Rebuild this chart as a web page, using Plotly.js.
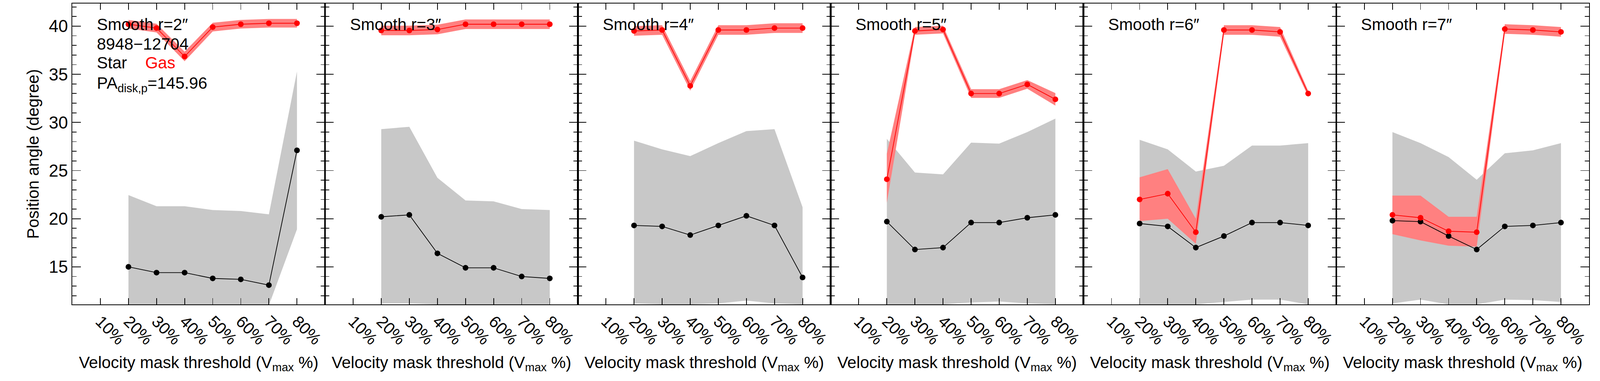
<!DOCTYPE html>
<html>
<head>
<meta charset="utf-8">
<script src="https://cdn.plot.ly/plotly-3.0.1.min.js"></script>
<style>html,body{margin:0;padding:0;overflow:hidden;background:#fff}#chart{width:100vw;height:100vh}</style>
</head>
<body>
<div id="chart"></div>
<script>
var thresholds = [20, 30, 40, 50, 60, 70, 80];
var tickVals = [10, 20, 30, 40, 50, 60, 70, 80];
var tickLabels = ['10%', '20%', '30%', '40%', '50%', '60%', '70%', '80%'];
var smoothRadii = ['2', '3', '4', '5', '6', '7'];

var starPA = [
  [15.0, 14.4, 14.4, 13.8, 13.7, 13.1, 27.1],
  [20.2, 20.4, 16.4, 14.9, 14.9, 14.0, 13.8],
  [19.3, 19.2, 18.3, 19.3, 20.3, 19.3, 13.9],
  [19.7, 16.8, 17.0, 19.6, 19.6, 20.1, 20.4],
  [19.5, 19.2, 17.0, 18.2, 19.6, 19.6, 19.3],
  [19.8, 19.7, 18.2, 16.8, 19.2, 19.3, 19.6]
];
var starLo = [
  [10.5, 10.5, 10.5, 10.5, 10.5, 11.0, 18.9],
  [11.2, 11.2, 11.1, 11.0, 11.0, 11.0, 11.0],
  [11.2, 11.1, 11.1, 11.2, 11.5, 11.2, 11.1],
  [11.1, 11.1, 11.1, 11.3, 11.4, 11.2, 11.1],
  [11.1, 11.1, 11.1, 11.35, 11.6, 11.6, 11.1],
  [11.2, 11.6, 11.1, 11.1, 11.6, 11.55, 11.35]
];
var starHi = [
  [22.45, 21.3, 21.3, 20.9, 20.8, 20.45, 35.3],
  [29.3, 29.55, 24.25, 21.9, 21.8, 21.0, 20.9],
  [28.1, 27.2, 26.5, 27.85, 29.1, 29.3, 21.2],
  [28.3, 24.8, 24.6, 27.9, 27.8, 29.0, 30.4],
  [28.2, 27.2, 24.9, 25.5, 27.6, 27.6, 27.85],
  [29.0, 27.85, 26.4, 24.05, 26.8, 27.1, 27.85]
];
var gasPA = [
  [40.2, 39.8, 36.85, 39.9, 40.2, 40.3, 40.3],
  [39.55, 39.55, 39.65, 40.2, 40.2, 40.2, 40.2],
  [39.5, 39.6, 33.8, 39.6, 39.6, 39.8, 39.8],
  [24.1, 39.5, 39.65, 33.0, 33.0, 33.95, 32.4],
  [22.0, 22.6, 18.6, 39.6, 39.6, 39.4, 33.0],
  [20.4, 20.1, 18.7, 18.6, 39.7, 39.6, 39.4]
];
var gasLo = [
  [39.75, 39.35, 36.35, 39.45, 39.75, 39.85, 39.85],
  [39.05, 39.05, 39.15, 39.7, 39.7, 39.7, 39.7],
  [39.0, 39.1, 33.3, 39.1, 39.1, 39.3, 39.3],
  [21.65, 39.1, 39.25, 32.55, 32.55, 33.5, 31.75],
  [19.75, 20.0, 17.4, 39.1, 39.1, 38.9, 32.7],
  [18.4, 17.75, 17.2, 17.1, 39.2, 39.1, 38.9]
];
var gasHi = [
  [40.65, 40.25, 37.35, 40.35, 40.65, 40.75, 40.75],
  [40.05, 40.05, 40.15, 40.7, 40.7, 40.7, 40.7],
  [40.0, 40.1, 34.3, 40.1, 40.1, 40.3, 40.3],
  [26.75, 39.9, 40.05, 33.45, 33.45, 34.4, 33.05],
  [24.3, 25.15, 20.0, 40.1, 40.1, 39.9, 33.3],
  [22.4, 22.4, 20.2, 20.2, 40.2, 40.1, 39.9]
];

// scale everything to the real viewport (designed for 4500x975)
var W = window.innerWidth, H = window.innerHeight;
var s = W / 4500, sy = H / 975;
var FONT = 'Liberation Sans, Arial, sans-serif';
var FS = Math.round(46 * s);
var data = [];
var layout = {
  width: W, height: H,
  margin: {l: 203 * s, r: 31 * s, t: 9 * sy, b: 196 * sy},
  paper_bgcolor: '#fff', plot_bgcolor: '#fff',
  showlegend: false,
  font: {family: FONT, size: FS, color: '#000'},
  annotations: []
};

for (var p = 0; p < 6; p++) {
  var n = p === 0 ? '' : String(p + 1);
  var xa = 'x' + n, ya = 'y' + n;
  data.push({x: thresholds, y: starLo[p], xaxis: xa, yaxis: ya, mode: 'lines',
    line: {width: 0, color: '#c8c8c8'}, hoverinfo: 'skip'});
  data.push({x: thresholds, y: starHi[p], xaxis: xa, yaxis: ya, mode: 'lines',
    fill: 'tonexty', fillcolor: '#c8c8c8', line: {width: 0, color: '#c8c8c8'}, hoverinfo: 'skip'});
  data.push({x: thresholds, y: gasLo[p], xaxis: xa, yaxis: ya, mode: 'lines',
    line: {width: 0, color: '#ff8080'}, hoverinfo: 'skip'});
  data.push({x: thresholds, y: gasHi[p], xaxis: xa, yaxis: ya, mode: 'lines',
    fill: 'tonexty', fillcolor: '#ff8080', line: {width: 0, color: '#ff8080'}, hoverinfo: 'skip'});
  data.push({x: thresholds, y: starPA[p], xaxis: xa, yaxis: ya, mode: 'lines+markers',
    line: {color: '#000', width: 2 * s}, marker: {color: '#000', size: 16 * s}});
  data.push({x: thresholds, y: gasPA[p], xaxis: xa, yaxis: ya, mode: 'lines+markers',
    line: {color: '#ff0000', width: 2 * s}, marker: {color: '#ff0000', size: 16 * s}});

  layout['xaxis' + n] = {
    domain: [p / 6, (p + 1) / 6], anchor: ya, range: [0, 90],
    tickvals: tickVals, ticktext: tickLabels, tickangle: 45,
    ticks: 'inside', ticklen: 16 * sy, tickwidth: 2 * s, tickcolor: '#000',
    showline: true, linewidth: 2.5 * s, linecolor: '#000', mirror: 'ticks',
    showgrid: false, zeroline: false,
    tickfont: {family: FONT, size: FS},
    title: {text: 'Velocity mask threshold (V<sub>max</sub> %)', font: {family: FONT, size: FS}, standoff: 22 * sy}
  };
  layout['yaxis' + n] = {
    domain: [0, 1], anchor: xa, range: [11.1, 42.35],
    tickvals: [15, 20, 25, 30, 35, 40],
    ticks: 'inside', ticklen: 24 * s, tickwidth: 2 * s, tickcolor: '#000',
    minor: {dtick: 1, ticks: 'inside', ticklen: 12 * s, tickwidth: 2 * s, tickcolor: '#000', showgrid: false},
    showline: true, linewidth: 2.5 * s, linecolor: '#000', mirror: 'ticks',
    showgrid: false, zeroline: false,
    showticklabels: p === 0,
    tickfont: {family: FONT, size: Math.round(48 * s)}
  };
  if (p === 0) {
    layout.yaxis.title = {text: 'Position angle (degree)', font: {family: FONT, size: FS}, standoff: 14 * s};
  }
  layout.annotations.push({xref: xa + ' domain', yref: 'paper', x: 0.095, y: 0.931,
    xanchor: 'left', yanchor: 'middle', showarrow: false,
    text: 'Smooth r=' + smoothRadii[p] + '\u2033', font: {family: FONT, size: FS}});
}

var extra = ['8948\u221212704', 'Star&nbsp;&nbsp;&nbsp;&nbsp;<span style="color:#ff0000">Gas</span>',
  'PA<sub>disk,p</sub>=145.96'];
var extraY = [0.866, 0.803, 0.732];
for (var i = 0; i < extra.length; i++) {
  layout.annotations.push({xref: 'x domain', yref: 'paper', x: 0.095, y: extraY[i],
    xanchor: 'left', yanchor: 'middle', showarrow: false, text: extra[i],
    font: {family: FONT, size: FS}});
}

Plotly.newPlot('chart', data, layout, {staticPlot: true});
</script>
</body>
</html>
